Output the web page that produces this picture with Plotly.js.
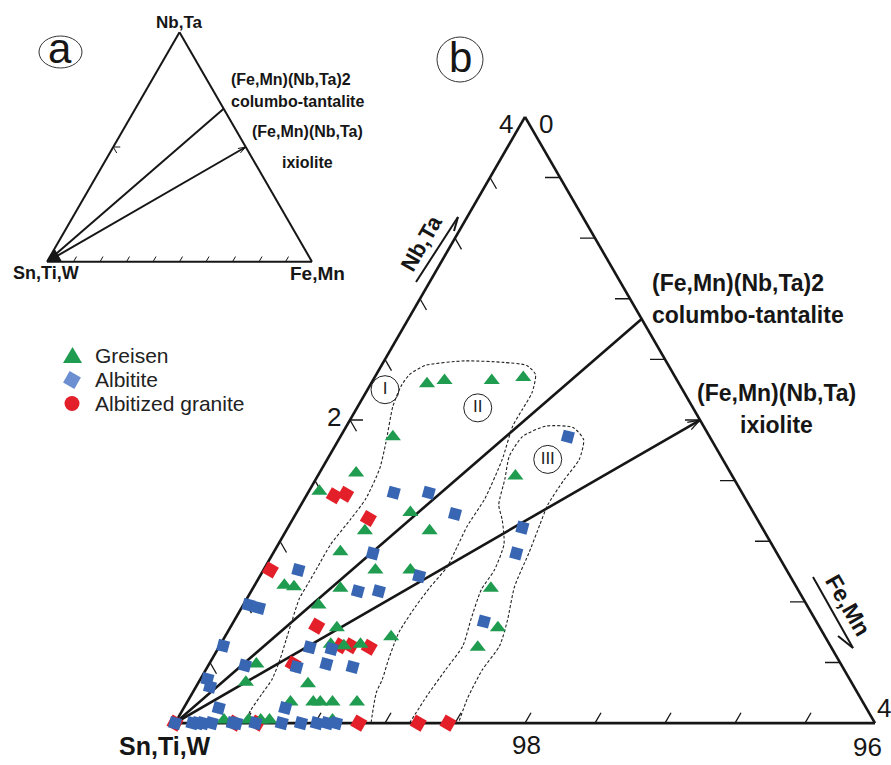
<!DOCTYPE html>
<html><head><meta charset="utf-8">
<script src="https://cdn.plot.ly/plotly-3.0.1.min.js"></script>
<style>html,body{margin:0;padding:0;background:#fff}#chart{width:891px;height:765px}</style>
</head><body><div id="chart"></div>
<script>
// ===== DATA (at.%): Nb,Ta = top apex, Fe,Mn = right apex, Sn,Ti,W = remainder =====
const greisenNbTa = [2.24,2.26,2.26,2.28,1.89,1.63,1.65,1.53,1.39,1.27,1.27,1.13,1.01,1.01,0.91,0.90,0.89,0.89,0.78,0.63,0.63,0.57,0.52,0.51,0.52,0.50,0.39,0.27,0.26,0.14,0.14,0.14,0.14,0.14,0.02,0.02,0.02,0.02,0.02];
const greisenFeMn = [0.32,0.41,0.68,0.85,0.30,1.13,0.21,0.06,0.65,0.45,0.82,0.38,0.64,0.84,0.17,0.23,0.50,1.36,0.43,0.61,1.53,0.95,0.63,0.71,0.80,1.48,0.27,0.27,0.63,0.59,0.72,0.76,0.83,0.97,0.27,0.41,0.48,0.53,0.89];

const albititeNbTa = [1.89,1.52,1.52,1.38,1.29,1.12,1.12,1.01,0.97,0.87,0.87,0.78,0.76,0.67,0.51,0.50,0.49,0.38,0.37,0.39,0.37,0.29,0.24,0.10,0.10,0,0,0,0,0,0,0,0,0,0,0,0,0];
const albititeFeMn = [1.30,0.49,0.69,0.91,1.34,0.57,1.39,0.20,0.91,0.61,0.73,0.03,0.10,1.43,0.02,0.52,0.65,0.21,0.51,0.67,0.83,0.04,0.08,0.20,0.58,0,0.10,0.13,0.16,0.21,0.33,0.35,0.46,0.61,0.72,0.81,0.87,0.92];

const albGraniteNbTa = [1.50,1.51,1.35,1.01,0.64,0.51,0.51,0.50,0.39,0,0,0,0,0,0];
const albGraniteFeMn = [0.16,0.22,0.43,0.04,0.49,0.69,0.75,0.86,0.48,0,0.34,0.47,1.05,1.39,1.56];

// legend
const seriesNames = ['Greisen','Albitite','Albitized granite'];

// mineral compositions (end points of the lines from the Sn,Ti,W apex)
const mineralNames = ['columbo-tantalite','ixiolite'];
const mineralNbTaFull = [66.67, 50];      // full diagram (a)
const mineralFeMnFull = [33.33, 50];
const mineralNbTaZoom = [2.667, 2];       // zoomed diagram (b)
const mineralFeMnZoom = [1.333, 2];

// field outlines
const fieldIINbTa = [0,0.08,0.19,0.29,0.42,0.55,0.68,0.82,0.93,1.03,1.18,1.34,1.48,1.68,1.85,2.09,2.22,2.30,2.36,2.39,2.38,2.36,2.30,2.18,2.07,1.96,1.74,1.48,1.30,1.17,1.03,0.90,0.77,0.60,0.42,0.29,0.20,0];
const fieldIIFeMn = [0.40,0.39,0.40,0.41,0.39,0.36,0.33,0.30,0.30,0.30,0.30,0.33,0.35,0.33,0.28,0.20,0.18,0.19,0.25,0.46,0.69,0.83,0.91,0.95,0.95,0.95,1.00,1.03,1.02,1.03,1.04,1.01,0.99,0.98,1.01,1.04,1.05,1.12];
const fieldIIINbTa = [0,0.18,0.35,0.51,0.68,0.88,1.01,1.18,1.34,1.44,1.61,1.76,1.89,1.96,1.95,1.87,1.74,1.60,1.44,1.31,1.13,0.90,0.68,0.51,0.35,0.16,0];
const fieldIIIFeMn = [1.34,1.35,1.37,1.39,1.35,1.31,1.32,1.29,1.20,1.13,1.08,1.03,1.04,1.14,1.30,1.40,1.44,1.42,1.41,1.43,1.46,1.49,1.56,1.60,1.58,1.59,1.62];
const fieldLabels = ['I','II','III'];
const fieldLabelNbTa = [2.20, 2.08, 1.74];
const fieldLabelFeMn = [0.10, 0.69, 1.26];

// axis tick values
const zoomTickVals = [0.4,0.8,1.2,1.6,2.0,2.4,2.8,3.2,3.6];
const fullTickVals = [10,20,30,40,50,60,70,80,90];

// ===== helpers =====
const FONT = 'Liberation Sans, Arial, sans-serif';
const GREEN = '#1f9c4f', BLUE = '#3866b3', RED = '#e31f2a', INK = '#161616';
const W = 891, H = 765;
const px = x => x / W, py = y => 1 - y / H;
const S3 = Math.sqrt(3) / 2;

function tern(nb, fe, total) {
  return { a: nb, c: fe, b: nb.map((v, i) => (v == null ? null : total - v - fe[i])) };
}
function off(a, c, len, ang, u) {
  const t = ang * Math.PI / 180, dx = len * Math.cos(t), dy = len * Math.sin(t);
  const da = dy / (S3 * u), dc = dx / u - da / 2;
  return [a + da, c + dc];
}
function segs(list, total) {
  const A = [], C = [];
  list.forEach(s => { A.push(s[0], s[2], null); C.push(s[1], s[3], null); });
  return tern(A, C, total);
}

const U1 = 700 / 4;
const U2 = 265 / 100;

const tk = [];
zoomTickVals.forEach(j => {
  const l = off(j, 0, 13, -60, U1); tk.push([j, 0, l[0], l[1]]);
  const r = off(4 - j, j, 15, 180, U1); tk.push([4 - j, j, r[0], r[1]]);
  const bt = off(0, j, 12, 60, U1); tk.push([0, j, bt[0], bt[1]]);
});
{ const h = off(2, 0, 13, 0, U1); tk.push([2, 0, h[0], h[1]]); }
{ const b1 = off(2, 2, 13, 191, U1), b2 = off(2, 2, 13, 228, U1);
  tk.push([2, 2, b1[0], b1[1]]); tk.push([2, 2, b2[0], b2[1]]); }

const tk2 = [];
fullTickVals.forEach(j => { const bt = off(0, j, 6, 60, U2); tk2.push([0, j, bt[0], bt[1]]); });
{ const h1 = off(50, 0, 7, 0, U2), h2 = off(50, 0, 7, -60, U2);
  tk2.push([50, 0, h1[0], h1[1]]); tk2.push([50, 0, h2[0], h2[1]]); }
{ const b1 = off(50, 50, 8, 191, U2), b2 = off(50, 50, 8, 228, U2);
  tk2.push([50, 50, b1[0], b1[1]]); tk2.push([50, 50, b2[0], b2[1]]); }

const traces = [];
function T(obj) { traces.push(Object.assign({ type: 'scatterternary', hoverinfo: 'skip', showlegend: false }, obj)); }

// ---- zoomed diagram (b) ----
T(Object.assign({ subplot: 'ternary', mode: 'lines', line: { color: INK, width: 1.3 } }, segs(tk, 100)));
mineralNames.forEach((n, i) => {
  T(Object.assign({ subplot: 'ternary', mode: 'lines', line: { color: INK, width: 2.6 } },
    tern([0, mineralNbTaZoom[i]], [0, mineralFeMnZoom[i]], 100)));
});
const dashLine = { color: '#222', width: 1.1, dash: '3px,2px', shape: 'spline', smoothing: 0.6 };
T(Object.assign({ subplot: 'ternary', mode: 'lines', line: dashLine }, tern(fieldIINbTa, fieldIIFeMn, 100)));
T(Object.assign({ subplot: 'ternary', mode: 'lines', line: dashLine }, tern(fieldIIINbTa, fieldIIIFeMn, 100)));
T(Object.assign({ subplot: 'ternary', mode: 'markers+text', text: fieldLabels, textposition: 'middle center',
  textfont: { family: FONT, size: 17, color: '#222' },
  marker: { symbol: 'circle-open', size: 28, color: '#222', line: { width: 1, color: '#222' } } },
  tern(fieldLabelNbTa, fieldLabelFeMn, 100)));

T(Object.assign({ subplot: 'ternary', mode: 'markers', cliponaxis: false, name: seriesNames[2],
  marker: { symbol: 'square', angle: 30, size: 12.5, color: RED, line: { width: 0 } } }, tern(albGraniteNbTa, albGraniteFeMn, 100)));
T(Object.assign({ subplot: 'ternary', mode: 'markers', cliponaxis: false, name: seriesNames[0],
  marker: { symbol: 'triangle-up', size: 14, color: GREEN, line: { width: 0 } } }, tern(greisenNbTa, greisenFeMn, 100)));
T(Object.assign({ subplot: 'ternary', mode: 'markers', cliponaxis: false, name: seriesNames[1],
  marker: { symbol: 'square', angle: 15, size: 11.5, color: BLUE, line: { width: 0 } } }, tern(albititeNbTa, albititeFeMn, 100)));

// ---- full diagram (a) ----
T(Object.assign({ subplot: 'ternary2', mode: 'lines', line: { color: INK, width: 1 } }, segs(tk2, 100)));
T(Object.assign({ subplot: 'ternary2', mode: 'lines', fill: 'toself', fillcolor: INK, line: { color: INK, width: 1 } },
  tern([0, 5.5, 0, 0], [0, 0, 5.5, 0], 100)));
mineralNames.forEach((n, i) => {
  T(Object.assign({ subplot: 'ternary2', mode: 'lines', line: { color: INK, width: 2 } },
    tern([0, mineralNbTaFull[i]], [0, mineralFeMnFull[i]], 100)));
});

const axBase = { showgrid: false, showticklabels: false, ticks: '', linecolor: INK, linewidth: 2.6, layer: 'below traces', title: { text: '' } };
const axBase2 = Object.assign({}, axBase, { linewidth: 2 });

function ann(text, x, y, size, extra) {
  return Object.assign({ text, x: px(x), y: py(y), xref: 'paper', yref: 'paper', showarrow: false,
    xanchor: 'center', yanchor: 'middle', font: { family: FONT, size, color: INK } }, extra || {});
}
const annotations = [
  ann('4', 506, 124, 26), ann('0', 546, 124, 26), ann('2', 334, 417, 26),
  ann('98', 526, 745, 26), ann('96', 867, 747, 26), ann('4', 884, 708, 26),
  ann('<b>Sn,Ti,W</b>', 165, 746, 25),
  ann('<b>Nb,Ta</b>', 421, 243, 22, { textangle: -60 }),
  ann('<b>Fe,Mn</b>', 848, 605, 23, { textangle: 60 }),
  ann('<b>(Fe,Mn)(Nb,Ta)2</b>', 650, 283, 23, { xanchor: 'left' }),
  ann('<b>columbo-tantalite</b>', 650, 315, 23, { xanchor: 'left' }),
  ann('<b>(Fe,Mn)(Nb,Ta)</b>', 776, 393, 23),
  ann('<b>ixiolite</b>', 776, 425, 23),
  ann('<b>Nb,Ta</b>', 179, 22, 17),
  ann('<b>Sn,Ti,W</b>', 46, 273, 18),
  ann('<b>Fe,Mn</b>', 317, 273, 19),
  ann('<b>(Fe,Mn)(Nb,Ta)2</b>', 229, 80, 16, { xanchor: 'left' }),
  ann('<b>columbo-tantalite</b>', 229, 102, 16, { xanchor: 'left' }),
  ann('<b>(Fe,Mn)(Nb,Ta)</b>', 307, 131, 16),
  ann('<b>ixiolite</b>', 307, 162, 16),
  ann('a', 60, 49, 42), ann('b', 460, 58, 42)
];
// legend labels
const legendRowsY = [355, 379, 403];
seriesNames.forEach((n, i) => annotations.push(ann(n, 93, legendRowsY[i], 21, { xanchor: 'left', font: { family: FONT, size: 21, color: '#222' } })));

function seg(x0, y0, x1, y1, w) {
  return { type: 'line', xref: 'paper', yref: 'paper', x0: px(x0), y0: py(y0), x1: px(x1), y1: py(y1), line: { color: INK, width: w || 2 } };
}
function polyPath(pts) { return 'M' + pts.map(p => px(p[0]) + ',' + py(p[1])).join('L') + 'Z'; }
function rotSquare(cx, cy, s, ang) {
  const r = s / Math.SQRT2, pts = [];
  for (let k = 0; k < 4; k++) { const t = (ang + 45 + 90 * k) * Math.PI / 180; pts.push([cx + r * Math.cos(t), cy + r * Math.sin(t)]); }
  return pts;
}
const shapes = [
  { type: 'circle', xref: 'paper', yref: 'paper', x0: px(39), x1: px(82), y0: py(36), y1: py(68), line: { color: '#333', width: 1 } },
  { type: 'circle', xref: 'paper', yref: 'paper', x0: px(437), x1: px(483), y0: py(37), y1: py(82), line: { color: '#333', width: 1 } },
  seg(416, 282, 458, 217), seg(458, 217, 454, 231),
  seg(813, 577, 853, 648), seg(853, 648, 838, 636),
  // legend symbols
  { type: 'path', xref: 'paper', yref: 'paper', path: polyPath([[63, 363], [82, 363], [72.5, 347]]), fillcolor: GREEN, line: { width: 0 } },
  { type: 'path', xref: 'paper', yref: 'paper', path: polyPath(rotSquare(72, 380, 13, 30)), fillcolor: '#6c8fd2', line: { width: 0 } },
  { type: 'circle', xref: 'paper', yref: 'paper', x0: px(64.5), x1: px(79.5), y0: py(396), y1: py(411), fillcolor: RED, line: { width: 0 } }
];

const yc1 = 1 - 420 / H, yc2 = 1 - 147 / H;
const layout = {
  width: W, height: H, margin: { l: 0, r: 0, t: 0, b: 0 },
  paper_bgcolor: '#fff', plot_bgcolor: '#fff', hovermode: false, showlegend: false,
  ternary: {
    sum: 100, bgcolor: 'rgba(0,0,0,0)',
    domain: { x: [175 / W, 875 / W], y: [yc1 - 0.42, yc1 + 0.42] },
    aaxis: Object.assign({ min: 0 }, axBase),
    baxis: Object.assign({ min: 96 }, axBase),
    caxis: Object.assign({ min: 0 }, axBase)
  },
  ternary2: {
    sum: 100, bgcolor: 'rgba(0,0,0,0)',
    domain: { x: [47 / W, 312 / W], y: [yc2 - 0.157, yc2 + 0.157] },
    aaxis: Object.assign({ min: 0 }, axBase2),
    baxis: Object.assign({ min: 0 }, axBase2),
    caxis: Object.assign({ min: 0 }, axBase2)
  },
  annotations, shapes
};
Plotly.newPlot('chart', traces, layout, { staticPlot: true, displayModeBar: false });
</script></body></html>
